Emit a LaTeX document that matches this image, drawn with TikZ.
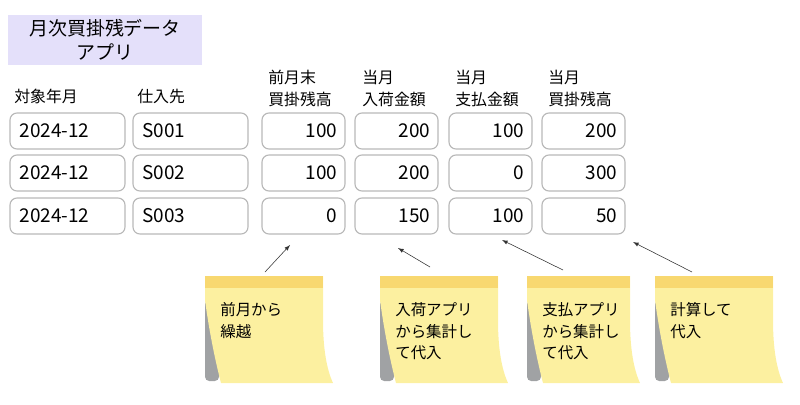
\documentclass[tikz,border=0pt]{standalone}
\usepackage{fontspec}
\setmainfont{Noto Sans CJK JP}
\usetikzlibrary{positioning,calc}
\definecolor{titlebg}{HTML}{E4E0FA}
\definecolor{notebody}{HTML}{FCF0A0}
\definecolor{noteband}{HTML}{F8D870}
\definecolor{notefold}{HTML}{A0A2A4}
\definecolor{cellline}{HTML}{B8B8B8}
\tikzset{
  cell/.style={draw=cellline, rounded corners=5pt, line width=0.8pt, minimum height=0.9cm, inner xsep=0pt,
    font=\fontsize{13.5}{16}\selectfont},
  txt/.style={cell, minimum width=2.875cm, text width=2.4cm, align=left},
  num/.style={cell, minimum width=2.075cm, text width=1.7cm, align=right},
  head/.style={align=left, anchor=south west, inner sep=0pt, font=\fontsize{11.3}{15.6}\selectfont},
  ptr/.style={->, >=latex, thin, black!80}
}
% sticky note: name, left x, width, text
\newcommand{\stickynote}[4]{
  \fill[notefold, rounded corners=3pt] (#2,300) -- (#2+14,300) -- (#2+14,381) -- (#2,381) -- cycle;
  \fill[notebody] (#2,276) -- (#2+#3,276) -- (#2+#3,320) .. controls (#2+#3,350) and (#2+#3+4,370) .. (#2+#3+10,383)
    -- (#2+16,383) .. controls (#2+10,360) and (#2+4,330) .. (#2,300) -- cycle;
  \fill[noteband] (#2,276) rectangle (#2+#3,288);
  \node[anchor=north west, align=left, font=\fontsize{11}{15.5}\selectfont, inner sep=0pt] (#1) at (#2+15,302) {#4};
}
\begin{document}
\begin{tikzpicture}[x=0.025cm, y=-0.025cm]
  \useasboundingbox (0,0) rectangle (800,404);

  % title
  \fill[titlebg] (8,15) rectangle (202,65);
  \node[align=center, font=\fontsize{13.5}{17}\selectfont] (title) at (105,40) {月次買掛残データ\\アプリ};

  % headers
  \node[head] (hmonth) at (14,104) {対象年月};
  \node[head] (hsup) at (137,104) {仕入先};
  \node[head] (hprev) at (268,107) {前月末\\買掛残高};
  \node[head] (hin) at (362,107) {当月\\入荷金額};
  \node[head] (hpay) at (455,107) {当月\\支払金額};
  \node[head] (hbal) at (548,107) {当月\\買掛残高};

  % rows
  \foreach \r/\y/\s/\p/\i/\q/\b in {1/131/S001/100/200/100/200, 2/173/S002/100/200/0/300, 3/216/S003/0/150/100/50}{
    \node[txt] (m\r) at (67.5,\y) {2024-12};
    \node[txt] (s\r) at (190.5,\y) {\s};
    \node[num] (p\r) at (303.5,\y) {\p};
    \node[num] (i\r) at (396.5,\y) {\i};
    \node[num] (q\r) at (490.5,\y) {\q};
    \node[num] (b\r) at (583.5,\y) {\b};
  }

  % notes
  \stickynote{n1}{205}{118}{前月から\\繰越}
  \stickynote{n2}{380}{118}{入荷アプリ\\から集計し\\て代入}
  \stickynote{n3}{527}{103}{支払アプリ\\から集計し\\て代入}
  \stickynote{n4}{655}{118}{計算して\\代入}

  % pointers
  \coordinate (t1) at (290,245);
  \coordinate (t2) at (398,248);
  \coordinate (t3) at (502,240);
  \coordinate (t4) at (633,242);
  \coordinate (f1) at (265,272);
  \coordinate (f2) at (430,267);
  \coordinate (f3) at (563,270);
  \coordinate (f4) at (692,272);
  \foreach \k in {1,...,4}
    \draw[ptr] (f\k) -- (t\k);
\end{tikzpicture}
\end{document}
